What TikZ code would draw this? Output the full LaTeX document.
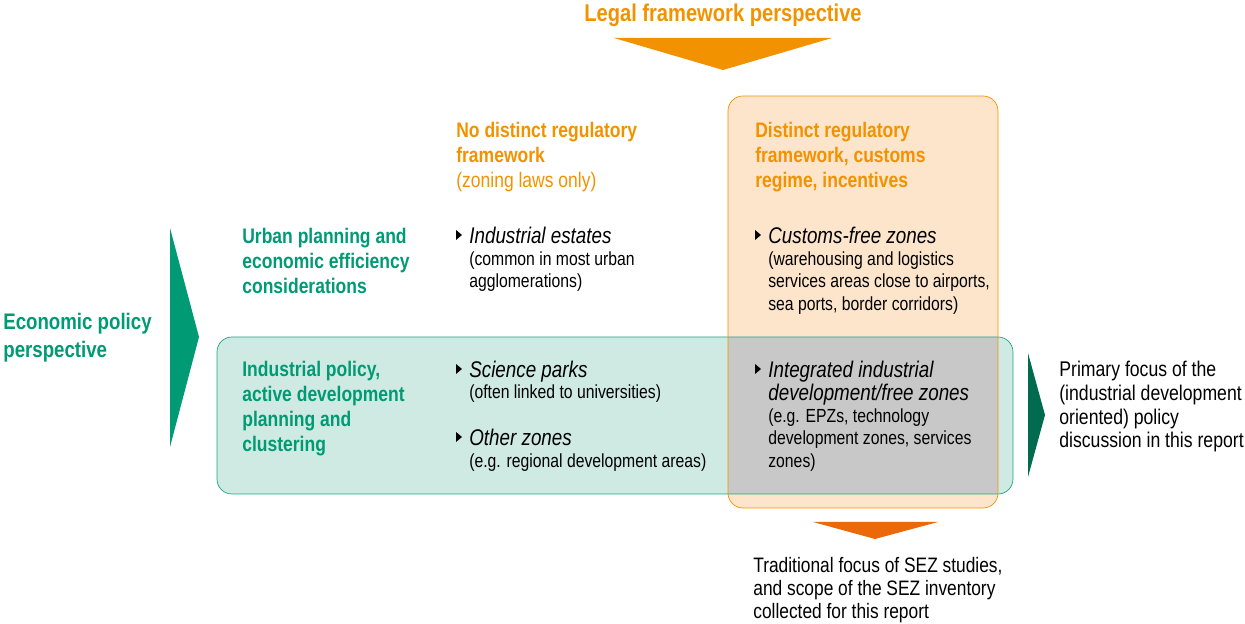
\documentclass[tikz,border=0pt]{standalone}
\usepackage{fontspec}
\setmainfont{Liberation Sans}[FakeStretch=0.83]
\usepackage{tikz}
\usetikzlibrary{
    calc,
    positioning
}

\definecolor{sezorange}{HTML}{F39200}
\definecolor{sezred}{HTML}{EB690B}
\definecolor{sezgreen}{HTML}{009A74}
\definecolor{sezdark}{HTML}{006B4F}
\definecolor{greenfill}{HTML}{CFEAE3}
\definecolor{greenline}{HTML}{1FA383}
\definecolor{orangefill}{HTML}{FDE5CB}
\definecolor{overlapgray}{HTML}{C8C8C8}

\tikzset{
  txt/.style={anchor=north west, inner sep=0pt, align=left},
  bigtitle/.style={txt, font=\fontsize{12.8}{15.8}\selectfont\bfseries},
  colhead/.style={txt, text=sezorange, font=\fontsize{12}{14.2}\selectfont\bfseries},
  rowhead/.style={txt, text=sezgreen, font=\fontsize{12}{14.3}\selectfont\bfseries},
  itemtitle/.style={txt, font=\fontsize{12.9}{13.1}\selectfont\itshape},
  itemdesc/.style={txt, font=\fontsize{10.8}{12.8}\selectfont},
  note/.style={txt, font=\fontsize{11.9}{13.2}\selectfont}
}

% small black marker in front of an item title
\newcommand{\bul}[1]{\fill ($(#1.north west)+(-13,3)$) -- ++(6,5) -- ++(-6,5) -- cycle;}

\begin{document}
\begin{tikzpicture}[x=0.02cm,y=-0.02cm]
  \useasboundingbox (0,0) rectangle (1245,624);

  % boxes
  \fill[orangefill, rounded corners=8.5pt] (728,96) rectangle (998,508);
  \fill[greenfill, rounded corners=8.5pt] (217,337) rectangle (1013,494);
  \fill[overlapgray] (728,337) rectangle (998,494);
  \draw[greenline, rounded corners=8.5pt] (217,337) rectangle (1013,494);
  \draw[sezorange, rounded corners=8.5pt] (728,96) rectangle (998,508);

  % perspective arrows
  \fill[sezorange] (614,38) -- (832,38) -- (723,70) -- cycle;
  \fill[sezgreen] (170,228) -- (199,337) -- (170,447) -- cycle;
  \fill[sezdark] (1028,353) -- (1045,415) -- (1028,477) -- cycle;
  \fill[sezred] (813,522) -- (938,522) -- (875,539) -- cycle;

  \node[bigtitle, anchor=north, text=sezorange, font=\fontsize{13.8}{16}\selectfont\bfseries] (legal) at (723,4) {Legal framework perspective};
  \node[bigtitle, text=sezgreen] (econ) at (3,313) {Economic policy\\perspective};

  % column and row headings
  \node[colhead] (nodist) at (456,122) {No distinct regulatory\\framework\\\mdseries(zoning laws only)};
  \node[colhead] (dist) at (755,122) {Distinct regulatory\\framework, customs\\regime, incentives};
  \node[rowhead] (urban) at (242,228) {Urban planning and\\economic efficiency\\considerations};
  \node[rowhead] (indpol) at (242,361) {Industrial policy,\\active development\\planning and\\clustering};

  % items
  \node[itemtitle] (ie) at (469,227) {Industrial estates};
  \node[itemdesc] (ied) at (469,251) {(common in most urban\\agglomerations)};
  \node[itemtitle] (cf) at (768,227) {Customs-free zones};
  \node[itemdesc] (cfd) at (768,251) {(warehousing and logistics\\services areas close to airports,\\sea ports, border corridors)};
  \node[itemtitle] (sp) at (469,361) {Science parks};
  \node[itemdesc] (spd) at (469,384) {(often linked to universities)};
  \node[itemtitle] (oz) at (469,429) {Other zones};
  \node[itemdesc] (ozd) at (469,453) {(e.g. regional development areas)};
  \node[itemtitle] (iz) at (768,361) {Integrated industrial\\development/free zones};
  \node[itemdesc] (izd) at (768,408) {(e.g. EPZs, technology\\development zones, services\\zones)};
  \bul{ie} \bul{cf} \bul{sp} \bul{oz} \bul{iz}

  % focus notes
  \node[note, font=\fontsize{12.1}{13.5}\selectfont] (primary) at (1059,361) {Primary focus of the\\(industrial development\\oriented) policy\\discussion in this report};
  \node[note] (trad) at (753,557) {Traditional focus of SEZ studies,\\and scope of the SEZ inventory\\collected for this report};
\end{tikzpicture}
\end{document}
